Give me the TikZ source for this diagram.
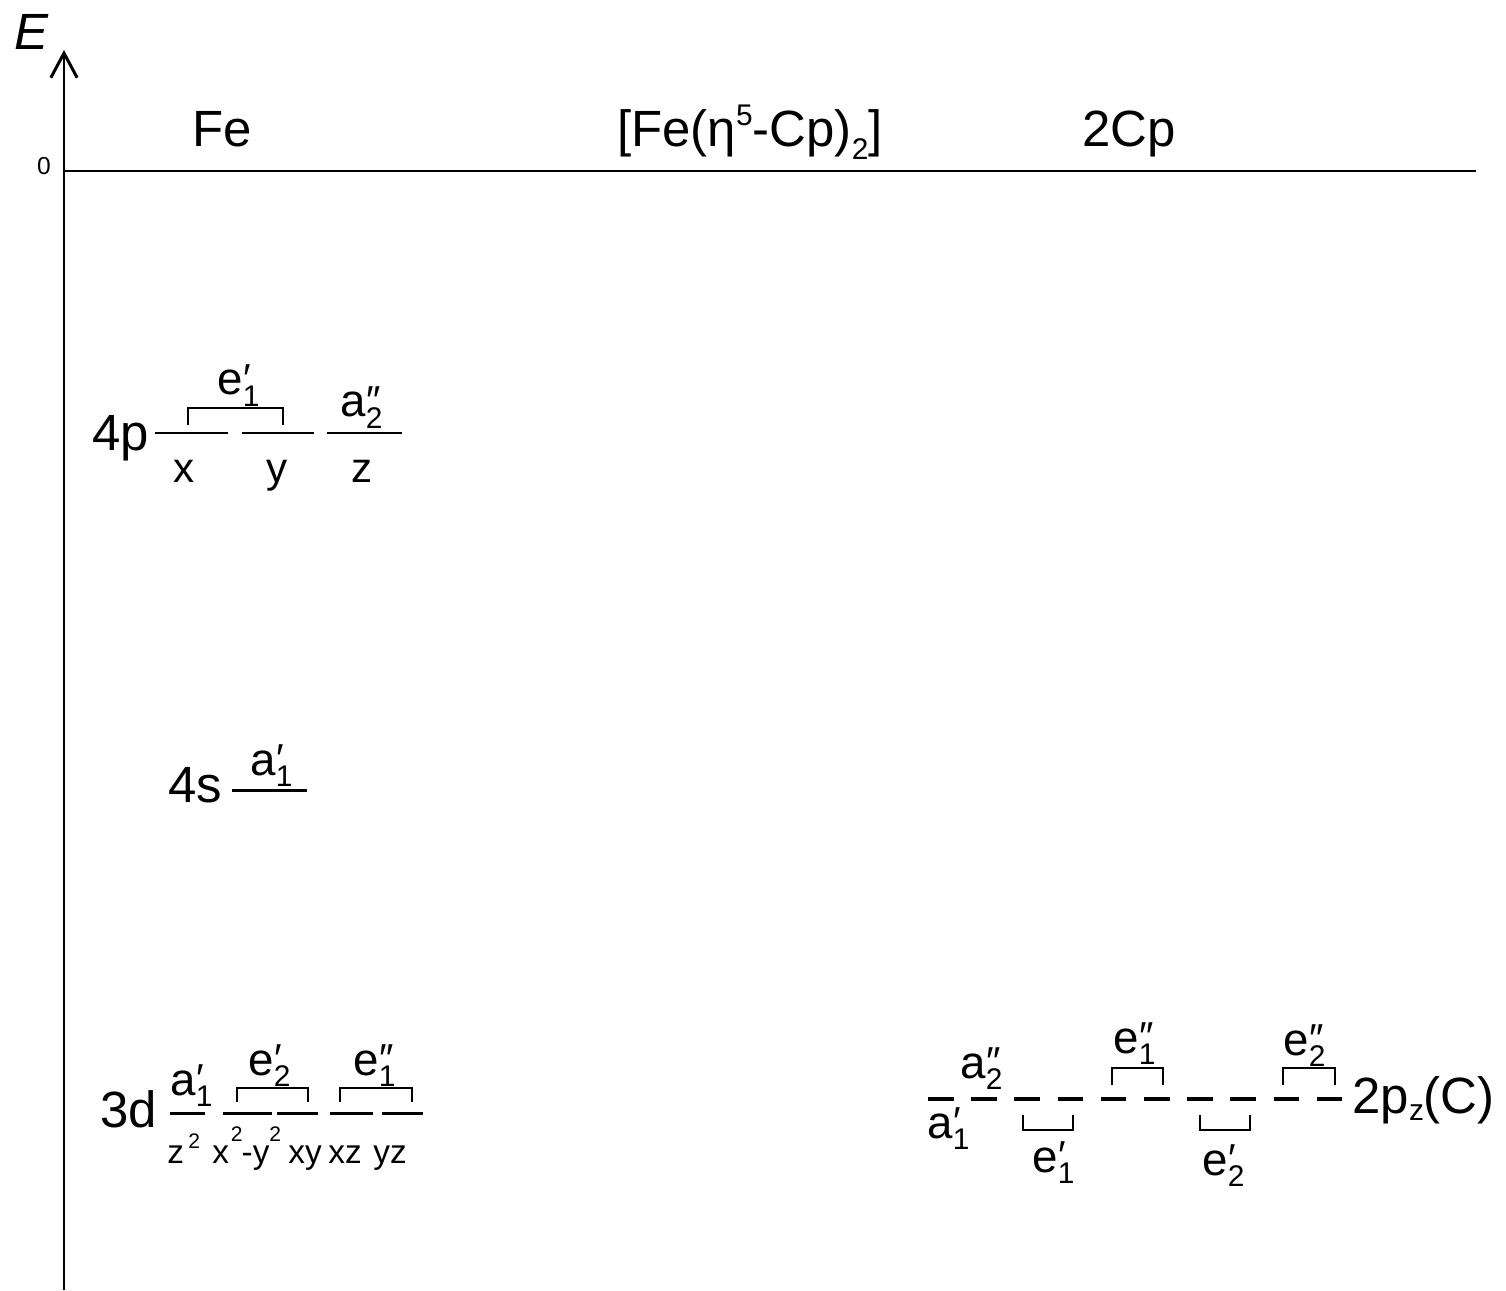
\documentclass[tikz,border=0pt]{standalone}
\usepackage{fontspec}
\setmainfont{Liberation Sans}
\usetikzlibrary{arrows.meta}

\newcommand{\subsz}{\fontsize{17}{17}\selectfont}
\newcommand{\primesz}{\fontsize{23}{23}\selectfont}
\newcommand{\supsz}{\fontsize{12}{12}\selectfont}
% orbital symbol: letter, subscript, prime mark over the subscript
\newcommand{\orb}[3]{#1\rlap{\raisebox{1.5pt}{\primesz\kern0.5pt#3}}\raisebox{-6.5pt}{\subsz #2}}

\begin{document}
\begin{tikzpicture}[x=0.02cm,y=-0.02cm]
    % Style definitions
    \tikzset{
      level/.style={line width=1.7pt},
      dashlevel/.style={line width=2.4pt},
      brk/.style={line width=1.5pt},
      axis/.style={line width=1.7pt},
      hdr/.style={font=\fontsize{29}{30}\selectfont, inner sep=0pt, anchor=base},
      lbl/.style={font=\fontsize{29}{30}\selectfont, inner sep=0pt, anchor=base west},
      sym/.style={font=\fontsize{26}{28}\selectfont, inner sep=0pt, anchor=base west},
      ax/.style={font=\fontsize{24}{26}\selectfont, inner sep=0pt, anchor=base},
      ax3d/.style={font=\fontsize{19}{21}\selectfont, inner sep=0pt, anchor=base west},
    }
    % ------------------------------------------------------------------
    % Helper macros: a level from x=#1 to x=#2 at height #3, and a
    % bracket from x=#1 to x=#2 with its bar at #3 and legs ending at #4
    % ------------------------------------------------------------------
    \newcommand{\lvl}[3]{\draw[level] (#1,#3) -- (#2,#3);}
    \newcommand{\bracketon}[4]{\draw[brk] (#1,#4) -- (#1,#3) -- (#2,#3) -- (#2,#4);}

    \useasboundingbox (0,0) rectangle (1506,1290);

    % Axes
    \draw[axis, -{Straight Barb[length=14pt,width=15pt]}] (64,1290) -- (64,50);
    \draw[axis] (64,171) -- (1476,171);
    \node[font=\fontsize{29}{30}\selectfont\itshape, inner sep=0pt, anchor=base] (E) at (31,50) {E};
    \node[font=\fontsize{14}{15}\selectfont, inner sep=0pt, anchor=base] (zero) at (44,175) {0};

    % Column headings
    \node[hdr] (fe) at (222,147) {Fe};
    \node[hdr] (fc) at (750,147) {[Fe(η\raisebox{12pt}{\subsz 5}-Cp)\raisebox{-7pt}{\subsz 2}]};
    \node[hdr] (cp) at (1129,147) {2Cp};

    % Fe 4p
    \node[lbl] (p4) at (92,450) {4p};
    \lvl{155}{228}{433}
    \lvl{242}{314}{433}
    \lvl{327}{402}{433}
    \bracketon{188}{283}{408}{425}
    \node[sym] (p4e) at (217,395) {\orb{e}{1}{′}};
    \node[sym] (p4a) at (340,417) {\orb{a}{2}{″}};
    \node[ax] (px) at (184,482) {x};
    \node[ax] (py) at (277,482) {y};
    \node[ax] (pz) at (362,482) {z};

    % Fe 4s
    \node[lbl] (s4) at (168,802) {4s};
    \lvl{232}{307}{790}
    \node[sym] (s4a) at (250,775) {\orb{a}{1}{′}};

    % Fe 3d
    \node[lbl] (d3) at (100,1127) {3d};
    \lvl{170}{205}{1113}
    \lvl{223}{272}{1113}
    \lvl{277}{318}{1113}
    \lvl{330}{373}{1113}
    \lvl{382}{423}{1113}
    \bracketon{237}{308}{1088}{1102}
    \bracketon{340}{412}{1088}{1102}
    \node[sym] (d3a) at (170,1095) {\orb{a}{1}{′}};
    \node[sym] (d3e2) at (248,1075) {\orb{e}{2}{′}};
    \node[sym] (d3e1) at (353,1075) {\orb{e}{1}{″}};
    \node[ax3d] (dz2) at (167,1163) {z\kern2.5pt\raisebox{8.5pt}{\supsz 2}};
    \node[ax3d] (dx2y2) at (212,1163) {x\kern1pt\raisebox{12pt}{\supsz 2}\kern-0.5pt-y\raisebox{12pt}{\supsz 2}};
    \node[ax3d] (dxy) at (288,1163) {xy};
    \node[ax3d] (dxz) at (328,1163) {xz};
    \node[ax3d] (dyz) at (373,1163) {yz};

    % 2Cp: ten 2p_z combinations
    \foreach \i in {0,...,9}
      \draw[dashlevel] ({928+43.2*\i},1099) -- ++(25.5,0);
    \bracketon{1023}{1073}{1130}{1115}
    \bracketon{1112}{1163}{1068}{1085}
    \bracketon{1200}{1250}{1130}{1115}
    \bracketon{1283}{1335}{1068}{1085}
    \node[sym] (ca1) at (927,1138) {\orb{a}{1}{′}};
    \node[sym] (ca2) at (960,1078) {\orb{a}{2}{″}};
    \node[sym] (ce1a) at (1032,1172) {\orb{e}{1}{′}};
    \node[sym] (ce1b) at (1113,1053) {\orb{e}{1}{″}};
    \node[sym] (ce2a) at (1202,1175) {\orb{e}{2}{′}};
    \node[sym] (ce2b) at (1283,1055) {\orb{e}{2}{″}};
    \node[lbl] (c2p) at (1352,1113) {2p\raisebox{-4pt}{\subsz z}(C)};
  \end{tikzpicture}
\end{document}
